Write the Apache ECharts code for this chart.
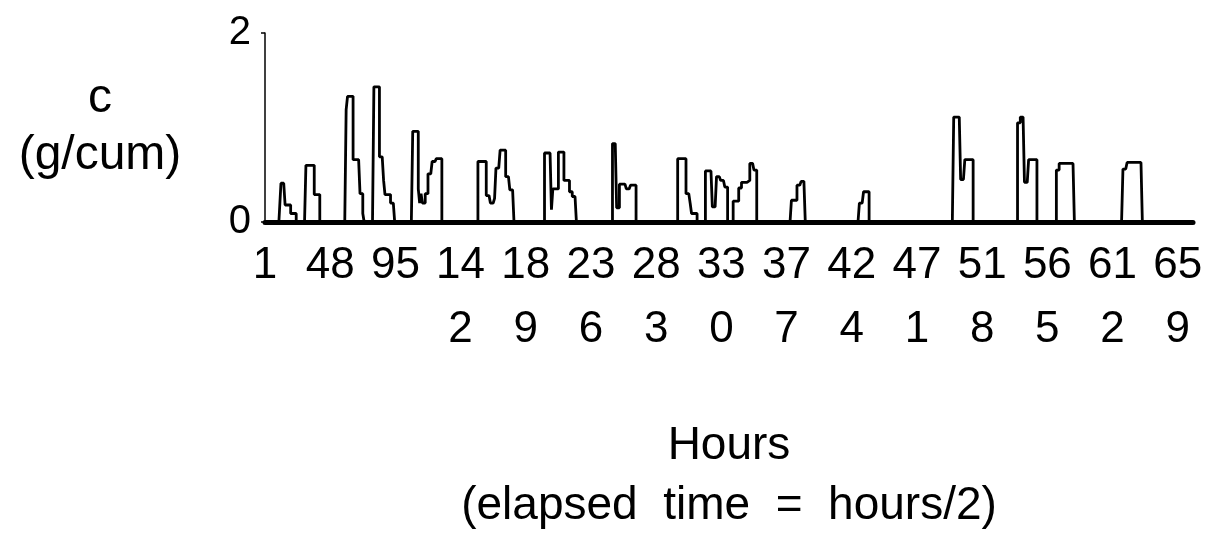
<!DOCTYPE html>
<html>
<head>
<meta charset="utf-8">
<script src="https://cdn.jsdelivr.net/npm/echarts@6/dist/echarts.min.js"></script>
<style>
html,body{margin:0;padding:0;background:#fff;}
#chart{width:1208px;height:544px;}
</style>
</head>
<body>
<div id="chart"></div>
<script>
// Hours on the x axis (1 .. 670), labels every 47 hours
var firstHour = 1;
var lastHour = 670;
var labelEvery = 47;

// Concentration c (g/cum): runs of constant value [start hour, end hour, value]
var runStart = [13, 16, 20, 31, 37, 60, 61, 65, 70, 72, 80, 84, 87, 88, 92,
  108, 112, 113, 114, 115, 117, 119, 122, 125,
  155, 161, 164, 167, 168, 171, 175, 178,
  203, 208, 209, 213, 217, 221, 223,
  252, 255, 257, 262, 265,
  299, 305, 308, 309,
  319, 324, 327, 330, 333,
  339, 343, 345, 349, 351, 354,
  381, 385, 388,
  430, 433,
  498, 503, 506,
  544, 546, 549, 552,
  572, 574,
  620, 623];
var runEnd = [15, 19, 23, 36, 40, 60, 64, 69, 71, 72, 83, 86, 87, 91, 94,
  111, 112, 113, 114, 116, 118, 121, 124, 128,
  160, 163, 166, 167, 170, 174, 177, 180,
  207, 208, 212, 216, 220, 222, 225,
  254, 256, 261, 264, 268,
  304, 307, 308, 312,
  323, 326, 329, 332, 334,
  342, 344, 348, 350, 353, 355,
  384, 387, 390,
  432, 436,
  502, 505, 511,
  545, 548, 551, 557,
  573, 584,
  622, 633];
var runValue = [0.41, 0.18, 0.09, 0.6, 0.29, 1.19, 1.33, 0.66, 0.3, 0.09, 1.43, 0.69, 0.44, 0.29, 0.2,
  0.96, 0.35, 0.2, 0.3, 0.2, 0.3, 0.51, 0.64, 0.67,
  0.64, 0.28, 0.2, 0.25, 0.57, 0.76, 0.48, 0.34,
  0.73, 0.13, 0.35, 0.74, 0.44, 0.32, 0.27,
  0.83, 0.15, 0.4, 0.35, 0.39,
  0.67, 0.3, 0.2, 0.09,
  0.54, 0.16, 0.48, 0.44, 0.37,
  0.22, 0.36, 0.42, 0.44, 0.62, 0.55,
  0.23, 0.39, 0.43,
  0.2, 0.32,
  1.11, 0.45, 0.66,
  1.05, 1.11, 0.42, 0.66,
  0.55, 0.62,
  0.56, 0.63];

var yTicks = [0, 2];

var hours = [];
var conc = [];
for (var h = firstHour; h <= lastHour; h++) { hours.push(String(h)); conc.push(0); }
for (var i = 0; i < runStart.length; i++) {
  for (var k = runStart[i]; k <= runEnd[i]; k++) conc[k - firstHour] = runValue[i];
}

var FONT = "'Liberation Sans', Arial, Helvetica, sans-serif";
var chart = echarts.init(document.getElementById('chart'));
chart.setOption({
  animation: false,
  backgroundColor: '#ffffff',
  grid: { left: 265, right: 15, top: 33, bottom: 322, containLabel: false },
  xAxis: {
    type: 'category',
    data: hours,
    boundaryGap: false,
    axisLine: { show: true, lineStyle: { color: '#000', width: 5 } },
    axisTick: { show: false },
    splitLine: { show: false },
    axisLabel: {
      interval: labelEvery - 1,
      color: '#000',
      fontFamily: FONT,
      fontSize: 44,
      lineHeight: 64,
      margin: 12,
      hideOverlap: false,
      formatter: function (v) { return v.length > 2 ? v.slice(0, 2) + '\n' + v.slice(2) : v; }
    },
    name: 'Hours\n(elapsed  time  =  hours/2)',
    nameLocation: 'middle',
    nameGap: 194,
    nameTextStyle: { color: '#000', fontFamily: FONT, fontSize: 46, lineHeight: 60, verticalAlign: 'top' }
  },
  yAxis: {
    type: 'value',
    min: yTicks[0],
    max: yTicks[yTicks.length - 1],
    interval: 2,
    axisLine: { show: true, lineStyle: { color: '#000', width: 1.5 } },
    axisTick: { show: true, length: 4, lineStyle: { color: '#000', width: 1.5 } },
    splitLine: { show: false },
    axisLabel: { color: '#000', fontFamily: FONT, fontSize: 40, margin: 14 },
    name: 'c\n(g/cum)',
    nameLocation: 'middle',
    nameRotate: 0,
    nameGap: 165,
    nameTextStyle: { color: '#000', fontFamily: FONT, fontSize: 48, lineHeight: 57, align: 'center', verticalAlign: 'middle' }
  },
  series: [{
    type: 'line',
    data: conc,
    step: 'middle',
    showSymbol: false,
    lineStyle: { color: '#000', width: 2.8 },
    z: 3
  }]
});
</script>
</body>
</html>
